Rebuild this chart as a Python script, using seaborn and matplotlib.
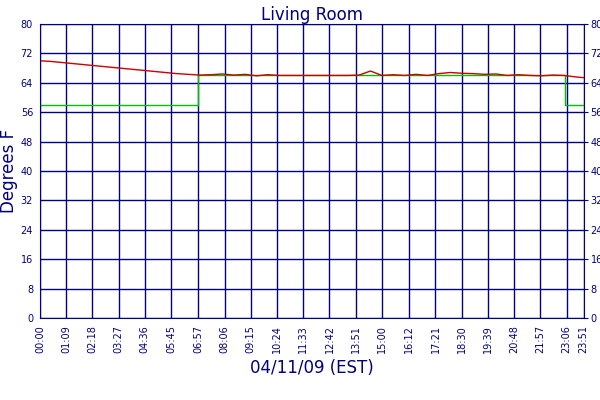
import matplotlib
matplotlib.use("Agg")
import matplotlib.pyplot as plt
import seaborn as sns
import pandas as pd

lr_minutes = [0,30,60,90,120,150,180,210,240,270,300,330,360,390,420,450,480,510,540,570,600,630,660,690,720,750,780,810,840,870,900,930,960,990,1020,1050,1080,1110,1140,1170,1200,1230,1260,1290,1320,1350,1380,1410,1431]
lr_values = [70.0,69.8,69.5,69.2,68.9,68.6,68.3,68.0,67.7,67.4,67.1,66.8,66.5,66.3,66.1,66.2,66.4,66.1,66.3,65.9,66.2,66.0,66.0,66.0,66.0,66.0,66.0,66.0,66.1,67.2,66.0,66.2,66.0,66.3,66.0,66.5,66.8,66.6,66.5,66.3,66.4,66.0,66.2,66.0,65.9,66.1,66.0,65.6,65.4]
sb_minutes = [0,417,417,1383,1383,1431]
sb_values = [58,58,66,66,58,58]
tick_labels = ["00:00","01:09","02:18","03:27","04:36","05:45","06:57","08:06","09:15","10:24","11:33",
               "12:42","13:51","15:00","16:12","17:21","18:30","19:39","20:48","21:57","23:06","23:51"]
tick_minutes = [int(s[:2]) * 60 + int(s[3:]) for s in tick_labels]
y_ticks = list(range(0, 81, 8))

navy = "#000080"
sns.set_style("white")
plt.rcParams['font.family'] = ['DejaVu Sans']
fig = plt.figure(figsize=(6, 4), dpi=100)
ax = fig.add_axes([0.0667, 0.205, 0.906, 0.735])
df_sb = pd.DataFrame({"t": sb_minutes, "v": sb_values})
df_lr = pd.DataFrame({"t": lr_minutes, "v": lr_values})
sns.lineplot(data=df_sb, x="t", y="v", ax=ax, color="#00c000", lw=1, label="Setback",
             sort=False, estimator=None)
sns.lineplot(data=df_lr, x="t", y="v", ax=ax, color="#cc0000", lw=1, label="Living Room",
             sort=False, estimator=None)
ax.set_xlim(0, 1431)
ax.set_ylim(0, 80)
ax.set_xticks(tick_minutes)
ax.set_xticklabels(tick_labels, rotation=90, fontsize=7, color=navy)
ax.set_yticks(y_ticks)
ax.set_yticklabels([str(y) for y in y_ticks], fontsize=7, color=navy)
ax.tick_params(right=True, labelright=True, length=3, pad=2, color=navy)
ax.grid(True, color=navy, lw=1)
for s in ax.spines.values():
    s.set_color(navy)
ax.set_xlabel("04/11/09 (EST)", fontsize=12, color=navy, labelpad=4)
ax.set_ylabel("Degrees F", fontsize=12, color=navy, labelpad=2)
ax.set_title("Living Room", fontsize=12, color=navy, pad=3)
h, l = ax.get_legend_handles_labels()
ax.legend(h[::-1], l[::-1], loc="upper center", bbox_to_anchor=(0.47, -0.25), ncol=2,
          frameon=False, fontsize=8, handlelength=1.5, prop={"size": 8})
for t in ax.get_legend().get_texts():
    t.set_color(navy)
fig.savefig("out.png")
